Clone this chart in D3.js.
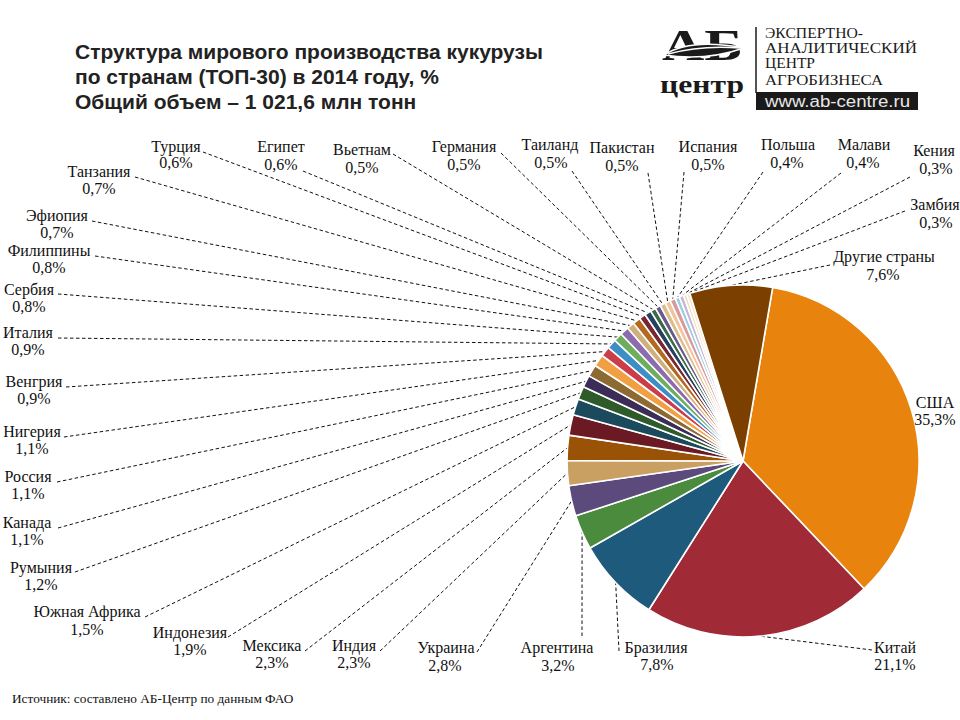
<!DOCTYPE html>
<html>
<head>
<meta charset="utf-8">
<script src="https://cdn.jsdelivr.net/npm/d3@7"></script>
<style>
  html, body { margin: 0; padding: 0; background: #fff; }
  svg { display: block; }
  .serif { font-family: "Liberation Serif", "Times New Roman", Times, "DejaVu Serif", serif; }
  .sans { font-family: "Liberation Sans", Arial, Helvetica, sans-serif; }
</style>
</head>
<body>
<svg id="chart" width="960" height="720"></svg>
<script>
// ---- data ----
const countries = ["США","Китай","Бразилия","Аргентина","Украина","Индия","Мексика","Индонезия",
  "Южная Африка","Румыния","Канада","Россия","Нигерия","Венгрия","Италия","Сербия","Филиппины",
  "Эфиопия","Танзания","Турция","Египет","Вьетнам","Германия","Таиланд","Пакистан","Испания",
  "Польша","Малави","Кения","Замбия","Другие страны"];
const shares = [35.3,21.1,7.8,3.2,2.8,2.3,2.3,1.9,1.5,1.2,1.1,1.1,1.1,0.9,0.9,0.8,0.8,
  0.7,0.7,0.6,0.6,0.5,0.5,0.5,0.5,0.5,0.4,0.4,0.3,0.3,7.6];
const titleLines = ["Структура мирового производства кукурузы",
  "по странам (ТОП-30) в 2014 году, %",
  "Общий объем – 1 021,6 млн тонн"];
const sourceText = "Источник: составлено АБ-Центр по данным ФАО";
const logoLines = ["ЭКСПЕРТНО-","АНАЛИТИЧЕСКИЙ","ЦЕНТР","АГРОБИЗНЕСА"];
const logoUrl = "www.ab-centre.ru";

// ---- styles ----
const sliceColors = ["#E8830E","#A12A37","#1D5A7C","#4A8B3E","#5C4A7C","#C9A062","#9A5206","#6B1A24",
  "#1B4A5C","#2F5B2A","#3C2D58","#8C6A32","#F0A043","#CC3D4A","#3B8FC4","#6DAE5D","#8C6BAE",
  "#CFB07C","#B5691E","#7A2530","#26415F","#3B6B45","#685B8C","#D9BE8C","#F3C49A","#D79A9E",
  "#9DCDE0","#C4B6D8","#F2DDB8","#F7E6CC","#7B3F00"];

// ---- label layout: [nameX, nameBaseline, pctX, pctBaseline, leaderX, leaderY] ----
const labelLayout = [
  [935,408,935,425,null,null],   // США
  [895,653,895,670,872,650],     // Китай
  [656,653,657,670,619,651],     // Бразилия
  [557,653,558,671,582,636],     // Аргентина
  [446,653,445,671,477,652],     // Украина
  [354,651,354,668,380,651],     // Индия
  [272,651,272,668,305,651],     // Мексика
  [190,638,190,655,228,637],     // Индонезия
  [87,617,87,635,145,617],       // Южная Африка
  [41,573,41,590,75,572],        // Румыния
  [27,528,27,545,58,528],        // Канада
  [28,482,28,499,57,482],        // Россия
  [32,437,32,454,64,437],        // Нигерия
  [34,387,34,404,66,387],        // Венгрия
  [28,338,28,355,58,338],        // Италия
  [29,295,29,312,58,294],        // Сербия
  [49,256,49,273,95,256],        // Филиппины
  [57,221,57,238,92,221],        // Эфиопия
  [99,177,99,194,135,177],       // Танзания
  [176,152,176,168,203,152],     // Турция
  [281,152,281,170,303,171],     // Египет
  [362,155,362,173,393,154],     // Вьетнам
  [464,152,464,170,501,153],     // Германия
  [550,150,551,168,572,171],     // Таиланд
  [622,153,622,171,648,173],     // Пакистан
  [708,152,708,170,684,172],     // Испания
  [788,150,787,168,763,172],     // Польша
  [864,150,863,168,841,173],     // Малави
  [934,156,936,174,910,177],     // Кения
  [935,210,936,228,905,211],     // Замбия
  [884,262,883,280,830,265]      // Другие страны
];

const svg = d3.select("#chart");
const cx = 743, cy = 461, R = 176;
const start = 9.7 * Math.PI / 180;

const data = countries.map((c, i) => ({name: c, value: shares[i], color: sliceColors[i], layout: labelLayout[i]}));

const pie = d3.pie().sort(null).value(d => d.value).startAngle(start).endAngle(start + 2 * Math.PI);
const arcs = pie(data);
const arc = d3.arc().innerRadius(0).outerRadius(R);
const edgeArc = d3.arc().innerRadius(R).outerRadius(R);

const fmt = v => d3.format(".1f")(v).replace(".", ",") + "%";

// leaders
const gLead = svg.append("g");
gLead.selectAll("line").data(arcs.filter(a => a.data.layout[4] !== null)).join("line")
  .attr("x1", a => a.data.layout[4])
  .attr("y1", a => a.data.layout[5])
  .attr("x2", a => cx + edgeArc.centroid(a)[0])
  .attr("y2", a => cy + edgeArc.centroid(a)[1])
  .attr("stroke", "#111")
  .attr("stroke-width", 1)
  .attr("stroke-dasharray", "3.5,2.5");

// slices
const gPie = svg.append("g").attr("transform", `translate(${cx},${cy})`);
gPie.selectAll("path").data(arcs).join("path")
  .attr("d", arc)
  .attr("fill", a => a.data.color)
  .attr("stroke", "#fff")
  .attr("stroke-width", 1.6)
  .attr("stroke-linejoin", "round");

// labels
const gLab = svg.append("g")
  .attr("class", "serif")
  .attr("font-size", 16)
  .attr("fill", "#111")
  .attr("text-anchor", "middle");
gLab.selectAll("text.name").data(data).join("text")
  .attr("class", "name")
  .attr("x", d => d.layout[0]).attr("y", d => d.layout[1])
  .text(d => d.name);
gLab.selectAll("text.pct").data(data).join("text")
  .attr("class", "pct")
  .attr("x", d => d.layout[2]).attr("y", d => d.layout[3])
  .text(d => fmt(d.value));

// title
const titleY = [59, 84, 109];
svg.append("g")
  .attr("class", "sans")
  .attr("font-weight", "bold")
  .attr("font-size", 21)
  .attr("fill", "#222")
  .selectAll("text").data(titleLines).join("text")
  .attr("x", 75).attr("y", (d, i) => titleY[i])
  .text(d => d);

// source
svg.append("text")
  .attr("class", "serif")
  .attr("x", 12).attr("y", 703)
  .attr("font-size", 13.3)
  .attr("fill", "#111")
  .text(sourceText);

// logo
const gLogo = svg.append("g");
gLogo.append("text")
  .attr("class", "serif")
  .attr("font-weight", "bold")
  .attr("fill", "#1a1a1a")
  .attr("x", 662).attr("y", 60)
  .attr("font-size", 44)
  .attr("textLength", 81)
  .attr("lengthAdjust", "spacingAndGlyphs")
  .text("АБ");
gLogo.append("text")
  .attr("class", "serif")
  .attr("font-weight", "bold")
  .attr("fill", "#1a1a1a")
  .attr("x", 660).attr("y", 93)
  .attr("font-size", 25)
  .attr("textLength", 84)
  .attr("lengthAdjust", "spacingAndGlyphs")
  .text("центр");
// leaf across letters
gLogo.append("path")
  .attr("d", "M664,55 C684,42 712,42 744,48 C718,57 690,59 664,55 Z")
  .attr("fill", "#1a1a1a")
  .attr("stroke", "#fff")
  .attr("stroke-width", 1.5);
gLogo.append("path")
  .attr("d", "M668,54 C690,48 715,46 740,48")
  .attr("fill", "none")
  .attr("stroke", "#fff")
  .attr("stroke-width", 1.5);
gLogo.append("line")
  .attr("x1", 756).attr("x2", 756).attr("y1", 27).attr("y2", 93)
  .attr("stroke", "#1a1a1a").attr("stroke-width", 1.5);
const logoW = [98, 152, 50, 118];
const logoY = [38, 53, 68, 85];
gLogo.append("g")
  .attr("class", "serif")
  .attr("font-size", 15)
  .attr("fill", "#1a1a1a")
  .selectAll("text").data(logoLines).join("text")
  .attr("x", 765).attr("y", (d, i) => logoY[i])
  .attr("textLength", (d, i) => logoW[i])
  .attr("lengthAdjust", "spacingAndGlyphs")
  .text(d => d);
gLogo.append("rect")
  .attr("x", 756).attr("y", 92).attr("width", 162).attr("height", 18)
  .attr("fill", "#1a1a1a");
gLogo.append("text")
  .attr("class", "sans")
  .attr("x", 765).attr("y", 107)
  .attr("font-size", 16)
  .attr("fill", "#e8e8e8")
  .attr("textLength", 145)
  .attr("lengthAdjust", "spacingAndGlyphs")
  .text(logoUrl);
</script>
</body>
</html>
